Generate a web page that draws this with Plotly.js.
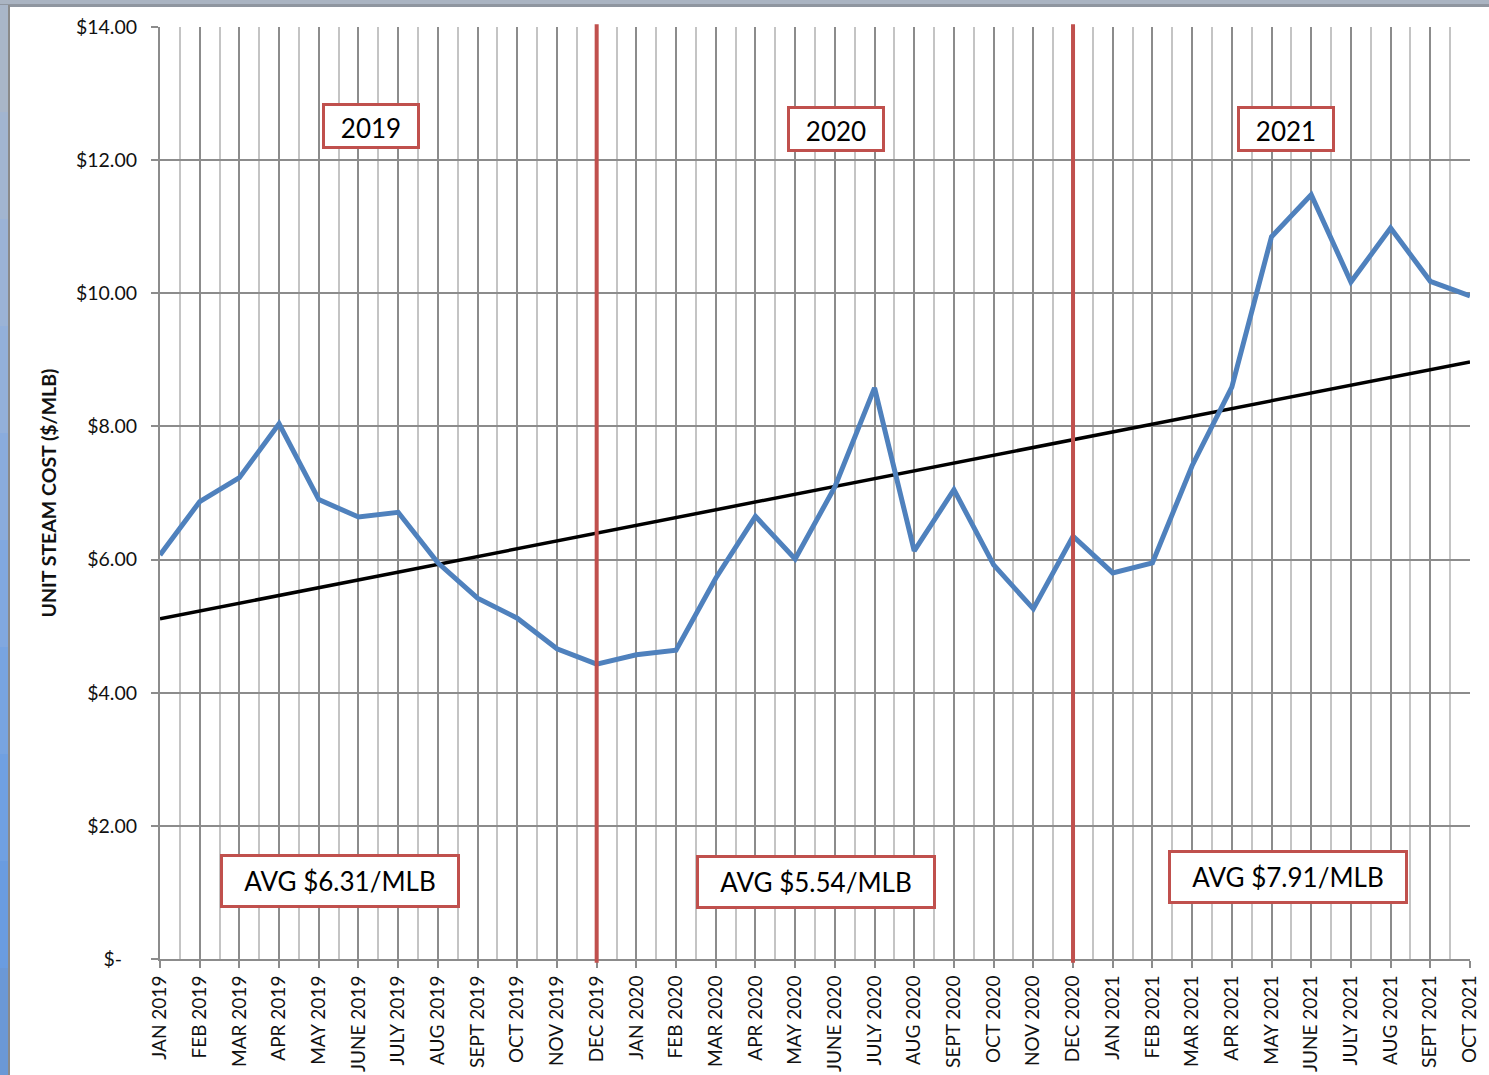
<!DOCTYPE html>
<html>
<head>
<meta charset="utf-8">
<script src="https://cdn.plot.ly/plotly-3.0.1.min.js"></script>
<style>html,body{margin:0;padding:0;background:#fff;}#chart{width:1489px;height:1075px;}</style>
</head>
<body>
<div id="chart"></div>
<script>
const months = ['JAN 2019','FEB 2019','MAR 2019','APR 2019','MAY 2019','JUNE 2019','JULY 2019','AUG 2019','SEPT 2019','OCT 2019','NOV 2019','DEC 2019',
  'JAN 2020','FEB 2020','MAR 2020','APR 2020','MAY 2020','JUNE 2020','JULY 2020','AUG 2020','SEPT 2020','OCT 2020','NOV 2020','DEC 2020',
  'JAN 2021','FEB 2021','MAR 2021','APR 2021','MAY 2021','JUNE 2021','JULY 2021','AUG 2021','SEPT 2021','OCT 2021'];
const unitCost = [6.07,6.87,7.23,8.04,6.90,6.64,6.71,5.95,5.42,5.12,4.66,4.43,
  4.57,4.64,5.72,6.65,6.01,7.09,8.58,6.13,7.05,5.92,5.26,6.35,
  5.80,5.95,7.41,8.59,10.85,11.48,10.17,10.98,10.18,9.96];
const trendMonths = ['JAN 2019','OCT 2021'];
const trendValues = [5.11, 8.97];
const yearDividers = ['DEC 2019','DEC 2020'];
const yearLabels = ['2019','2020','2021'];
const avgLabels = ['AVG $6.31/MLB','AVG $5.54/MLB','AVG $7.91/MLB'];
const yTickVals = [0,2,4,6,8,10,12,14];
const yTickText = ['$-\u00a0\u00a0\u00a0','$2.00','$4.00','$6.00','$8.00','$10.00','$12.00','$14.00'];

const idx = m => months.indexOf(m);
const xIdx = months.map((m,i)=>i);

const FONT = 'Lato, "Open Sans", sans-serif';

const traces = [
  {x: trendMonths.map(idx), y: trendValues, mode:'lines', line:{color:'#000000', width:3.5}, hoverinfo:'skip', showlegend:false},
  {x: xIdx, y: unitCost, mode:'lines', line:{color:'#4f81bd', width:5}, showlegend:false}
];

// background frame strips (paper coords)
const px = X => (X-160)/1310;
const py = Y => (959-Y)/932;
const shapes = [
  {type:'rect', xref:'paper', yref:'paper', x0:px(-2), x1:px(1500), y0:py(5), y1:py(-2), fillcolor:'#aab4c2', line:{width:0}, layer:'below'},
  {type:'rect', xref:'paper', yref:'paper', x0:px(-2), x1:px(1500), y0:py(7), y1:py(4), fillcolor:'#8f96a0', line:{width:0}, layer:'below'}
];
const stripCols = ['#a9b6c8','#a2b5d0','#9bb3d6','#93b0da','#8aacdd','#81a8df','#78a4e0','#70a0e1','#6a9ce0','#6b98d6'];
stripCols.forEach((c,i)=>{
  const y0 = 5 + i*107, y1 = 5 + (i+1)*107 + 1;
  shapes.push({type:'rect', xref:'paper', yref:'paper', x0:px(-2), x1:px(8), y0:py(y1), y1:py(y0), fillcolor:c, line:{width:0}, layer:'below'});
});
shapes.push({type:'rect', xref:'paper', yref:'paper', x0:px(8), x1:px(10), y0:py(1080), y1:py(5), fillcolor:'#8a8a8a', line:{width:0}, layer:'below'});
yearDividers.forEach(m => {
  shapes.push({type:'line', xref:'x', yref:'paper', x0:idx(m), x1:idx(m), y0:-0.004, y1:1.003, line:{color:'#c0504d', width:4}, layer:'above'});
});

const yearPos = [[370.5,123.5],[835.5,126.5],[1286,126.5]];
const avgPos = [[340,880.5],[815.5,882],[1288,876.5]];
const annotations = [];
yearLabels.forEach((t,i)=>{
  annotations.push({text:t, xref:'paper', yref:'paper', x:px(yearPos[i][0]), y:py(yearPos[i][1]), xanchor:'center', yanchor:'middle',
    showarrow:false, font:{family:FONT, size:26, color:'#000'}, bgcolor:'#ffffff', bordercolor:'#c0504d', borderwidth:3, borderpad:2,
    width:88, height:36, align:'center', valign:'bottom', yshift:-2});
});
avgLabels.forEach((t,i)=>{
  annotations.push({text:t, xref:'paper', yref:'paper', x:px(avgPos[i][0]), y:py(avgPos[i][1]), xanchor:'center', yanchor:'middle',
    showarrow:false, font:{family:FONT, size:26, color:'#000'}, bgcolor:'#ffffff', bordercolor:'#c0504d', borderwidth:3, borderpad:2,
    width:230, height:44, align:'center', valign:'middle'});
});

const layout = {
  width:1489, height:1075,
  margin:{l:160, r:19, t:27, b:116, pad:0},
  paper_bgcolor:'#ffffff', plot_bgcolor:'#ffffff',
  font:{family:FONT, color:'#111'},
  showlegend:false,
  xaxis:{
    range:[0, months.length-1], tickmode:'array', tickvals:xIdx, ticktext:months, tickangle:-90,
    tickfont:{family:FONT, size:19, color:'#111'},
    showgrid:true, gridcolor:'#8c8c8c', gridwidth:2,
    minor:{tickmode:'linear', tick0:0.5, dtick:1, showgrid:true, gridcolor:'#c4c4c4', gridwidth:2, ticks:''},
    ticks:'outside', ticklen:7, tickwidth:2, tickcolor:'#8c8c8c',
    showline:true, linecolor:'#8c8c8c', linewidth:2, zeroline:false, fixedrange:true
  },
  yaxis:{
    range:[0,14], tickmode:'array', tickvals:yTickVals, ticktext:yTickText,
    tickfont:{family:FONT, size:19.5, color:'#111'},
    showgrid:true, gridcolor:'#8c8c8c', gridwidth:2,
    ticks:'outside', ticklen:7, tickwidth:2, tickcolor:'#8c8c8c', ticklabelstandoff:10,
    showline:true, linecolor:'#8c8c8c', linewidth:2, zeroline:false,
    title:{text:'UNIT STEAM COST ($/MLB)', font:{family:FONT, size:19.5, color:'#111', weight:'bold'}, standoff:14}
  },
  shapes:shapes,
  annotations:annotations
};

Plotly.newPlot('chart', traces, layout, {displayModeBar:false, staticPlot:true});
</script>
</body>
</html>
